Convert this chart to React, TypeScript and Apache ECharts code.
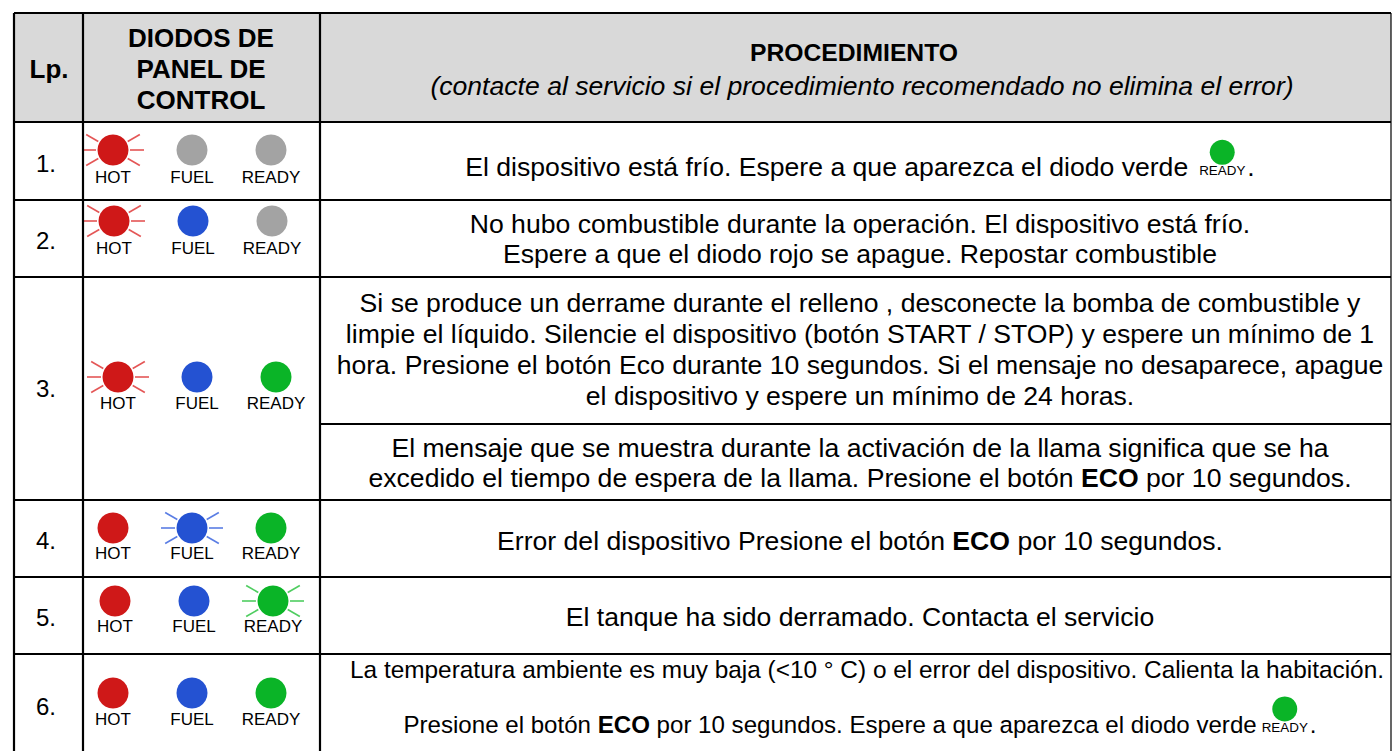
import React, { useEffect, useRef } from "react";
import * as echarts from "echarts";

// ---------- content ----------
const headerLp = "Lp.";
const headerDiodes = ["DIODOS DE", "PANEL DE", "CONTROL"];
const headerProcTitle = "PROCEDIMIENTO";
const headerProcNote =
  "(contacte al servicio si el procedimiento recomendado no elimina el error)";
const rowNumbers = ["1.", "2.", "3.", "4.", "5.", "6."];
const ledLabels = ["HOT", "FUEL", "READY"];
// state of each diode per row: off | on | blink
const ledStates = [
  ["blink", "off", "off"],
  ["blink", "on", "off"],
  ["blink", "on", "on"],
  ["on", "blink", "on"],
  ["on", "on", "blink"],
  ["on", "on", "on"],
];
// procedure cells (row 3 has two cells)
const procedureCells = [
  ["El dispositivo está frío. Espere a que aparezca el diodo verde"],
  [
    "No hubo combustible durante la operación. El dispositivo está frío.",
    "Espere a que el diodo rojo se apague. Repostar combustible",
  ],
  [
    "Si se produce un derrame durante el relleno , desconecte la bomba de combustible y",
    "limpie el líquido. Silencie el dispositivo (botón START / STOP) y espere un mínimo de 1",
    "hora. Presione el botón Eco durante 10 segundos. Si el mensaje no desaparece, apague",
    "el dispositivo y espere un mínimo de 24 horas.",
  ],
  [
    "El mensaje que se muestra durante la activación de la llama significa que se ha",
    "excedido el tiempo de espera de la llama. Presione el botón {b|ECO} por 10 segundos.",
  ],
  ["Error del dispositivo Presione el botón {b|ECO} por 10 segundos."],
  ["El tanque ha sido derramado. Contacta el servicio"],
  [
    "La temperatura ambiente es muy baja (<10 ° C) o el error del dispositivo. Calienta la habitación.",
    "Presione el botón {b|ECO} por 10 segundos. Espere a que aparezca el diodo verde",
  ],
];
// lines followed by an inline READY diode: [cell, line]
const inlineReadyLines = [
  [0, 0],
  [6, 1],
];
const inlineReadyLabel = "READY";

// ---------- layout & style ----------
const FONT = "'Liberation Sans', Arial, Helvetica, sans-serif";
const X_LEFT = 14;
const X_C1 = 83;
const X_C2 = 320;
const X_RIGHT = 1391;
const Y_TOP = 13;
const Y_HEAD = 122;
const Y_BOTTOM = 760;
const rowLines = [200, 277, 500, 577, 654];
const subLine = 424;
const numberY = [163, 240, 388, 540, 617, 706];
const ledX = [114, 193, 272];
const ledShift = [-1, 0, 4, -1, 1, -1];
const ledY = [150, 221, 377, 528, 601, 693];
const labelY = [177, 248, 403, 553, 626, 719];
const cellLineY = [
  [166.5],
  [223.5, 253.5],
  [302.5, 333.5, 365, 396],
  [448, 478],
  [540.5],
  [616.5],
  [669, 724],
];
const cellFont = [
  [26.6],
  [26.6, 26.6],
  [26.6, 26.6, 26.6, 26.6],
  [26.6, 26.6],
  [26.6],
  [26.6],
  [24.4, 24.1],
];
const cellLineShift = [[0], [0, 0], [0, 0, 0, 0], [0, 0], [0], [0], [7, 0]];
const inlineGap = [11, 5];
const PROC_CX = 860;
const ledColors = ["#cf1818", "#2452d2", "#0ab427"];
const rayColors = ["#e45656", "#5a7de4", "#4fcd60"];
const OFF_COLOR = "#a3a3a3";
const HEAD_FILL = "#d9d9d9";

let ctx: CanvasRenderingContext2D | null = null;
function measure(text: string, size: number): number {
  if (!ctx) ctx = document.createElement("canvas").getContext("2d");
  if (!ctx) return text.length * size * 0.5;
  let w = 0;
  const parts = text.split(/(\{b\|[^}]*\})/);
  for (const p of parts) {
    if (!p) continue;
    const m = p.match(/^\{b\|([^}]*)\}$/);
    ctx.font = (m ? "bold " : "") + size + "px " + FONT;
    w += ctx.measureText(m ? m[1] : p).width;
  }
  return w;
}

function txt(
  x: number,
  y: number,
  text: string,
  size: number,
  opts: { bold?: boolean; italic?: boolean; align?: string } = {}
) {
  const align = opts.align || "center";
  return {
    type: "text",
    x,
    y,
    silent: true,
    style: {
      text,
      fontSize: size,
      fontFamily: FONT,
      fontWeight: opts.bold ? "bold" : "normal",
      fontStyle: opts.italic ? "italic" : "normal",
      fill: "#000",
      align,
      verticalAlign: "middle",
      textAlign: align,
      textVerticalAlign: "middle",
      rich: {
        b: { fontSize: size, fontFamily: FONT, fontWeight: "bold", fill: "#000" },
      },
    },
  };
}

function line(x1: number, y1: number, x2: number, y2: number, w = 2.2) {
  return {
    type: "line",
    silent: true,
    shape: { x1, y1, x2, y2 },
    style: { stroke: "#000", lineWidth: w },
  };
}

function buildElements() {
  const els: any[] = [];
  // header background
  els.push({
    type: "rect",
    silent: true,
    shape: { x: X_LEFT, y: Y_TOP, width: X_RIGHT - X_LEFT, height: Y_HEAD - Y_TOP },
    style: { fill: HEAD_FILL },
  });
  // header texts
  els.push(txt((X_LEFT + X_C1) / 2 + 0.5, 69, headerLp, 26, { bold: true }));
  headerDiodes.forEach((t, i) => els.push(txt(201, 38 + i * 31, t, 26, { bold: true })));
  els.push(txt(854, 52, headerProcTitle, 24.7, { bold: true }));
  els.push(txt(862, 86, headerProcNote, 26.6, { italic: true }));

  // row numbers
  rowNumbers.forEach((n, r) => els.push(txt(46, numberY[r], n, 24)));

  // diodes
  ledStates.forEach((states, r) => {
    states.forEach((st, i) => {
      const cx = ledX[i] + ledShift[r];
      const cy = ledY[r];
      if (st === "blink") {
        [0, 30, 150, 180, 210, 330].forEach((deg) => {
          const a = (deg * Math.PI) / 180;
          els.push({
            type: "line",
            silent: true,
            shape: {
              x1: cx + 17 * Math.cos(a),
              y1: cy - 17 * Math.sin(a),
              x2: cx + 31 * Math.cos(a),
              y2: cy - 31 * Math.sin(a),
            },
            style: { stroke: rayColors[i], lineWidth: 1.6 },
          });
        });
      }
      els.push({
        type: "circle",
        silent: true,
        shape: { cx, cy, r: 15.5 },
        style: { fill: st === "off" ? OFF_COLOR : ledColors[i] },
      });
      els.push(txt(cx, labelY[r], ledLabels[i], 17));
    });
  });

  // procedures
  procedureCells.forEach((lines, c) => {
    lines.forEach((t, l) => {
      const size = cellFont[c][l];
      const y = cellLineY[c][l];
      const cx = PROC_CX + cellLineShift[c][l];
      const inlineIdx = inlineReadyLines.findIndex((p) => p[0] === c && p[1] === l);
      if (inlineIdx < 0) {
        els.push(txt(cx, y, t, size));
        return;
      }
      const gap = inlineGap[inlineIdx];
      const wMain = measure(t, size);
      const wReady = measure(inlineReadyLabel, 13.4);
      const wDot = measure(".", size);
      const total = wMain + gap + wReady + 2 + wDot;
      const x0 = cx - total / 2;
      const baseline = y + 0.35 * size;
      els.push(txt(x0, y, t, size, { align: "left" }));
      const rx = x0 + wMain + gap;
      els.push(txt(rx, baseline - 0.36 * 13.4, inlineReadyLabel, 13.4, { align: "left" }));
      els.push({
        type: "circle",
        silent: true,
        shape: { cx: rx + wReady / 2, cy: baseline - 23.5, r: 12.5 },
        style: { fill: ledColors[2] },
      });
      els.push(txt(rx + wReady + 2, y, ".", size, { align: "left" }));
    });
  });

  // grid lines
  els.push(line(X_LEFT, Y_TOP, X_RIGHT, Y_TOP));
  els.push(line(X_LEFT, Y_HEAD, X_RIGHT, Y_HEAD));
  rowLines.forEach((y) => els.push(line(X_LEFT, y, X_RIGHT, y)));
  els.push(line(X_C2, subLine, X_RIGHT, subLine));
  els.push(line(X_LEFT, Y_TOP, X_LEFT, Y_BOTTOM));
  els.push(line(X_C1, Y_TOP, X_C1, Y_BOTTOM));
  els.push(line(X_C2, Y_TOP, X_C2, Y_BOTTOM));
  els.push(line(X_RIGHT, Y_TOP, X_RIGHT, Y_BOTTOM, 1.2));
  return els;
}

export default function App() {
  const ref = useRef<HTMLDivElement>(null);
  useEffect(() => {
    if (!ref.current) return;
    const chart = echarts.init(ref.current, undefined, { renderer: "svg" });
    chart.setOption({
      animation: false,
      backgroundColor: "#ffffff",
      graphic: { elements: buildElements() },
    });
    return () => chart.dispose();
  }, []);
  return (
    <div
      ref={ref}
      style={{ position: "fixed", left: 0, top: 0, width: 1392, height: 751, background: "#fff" }}
    />
  );
}
